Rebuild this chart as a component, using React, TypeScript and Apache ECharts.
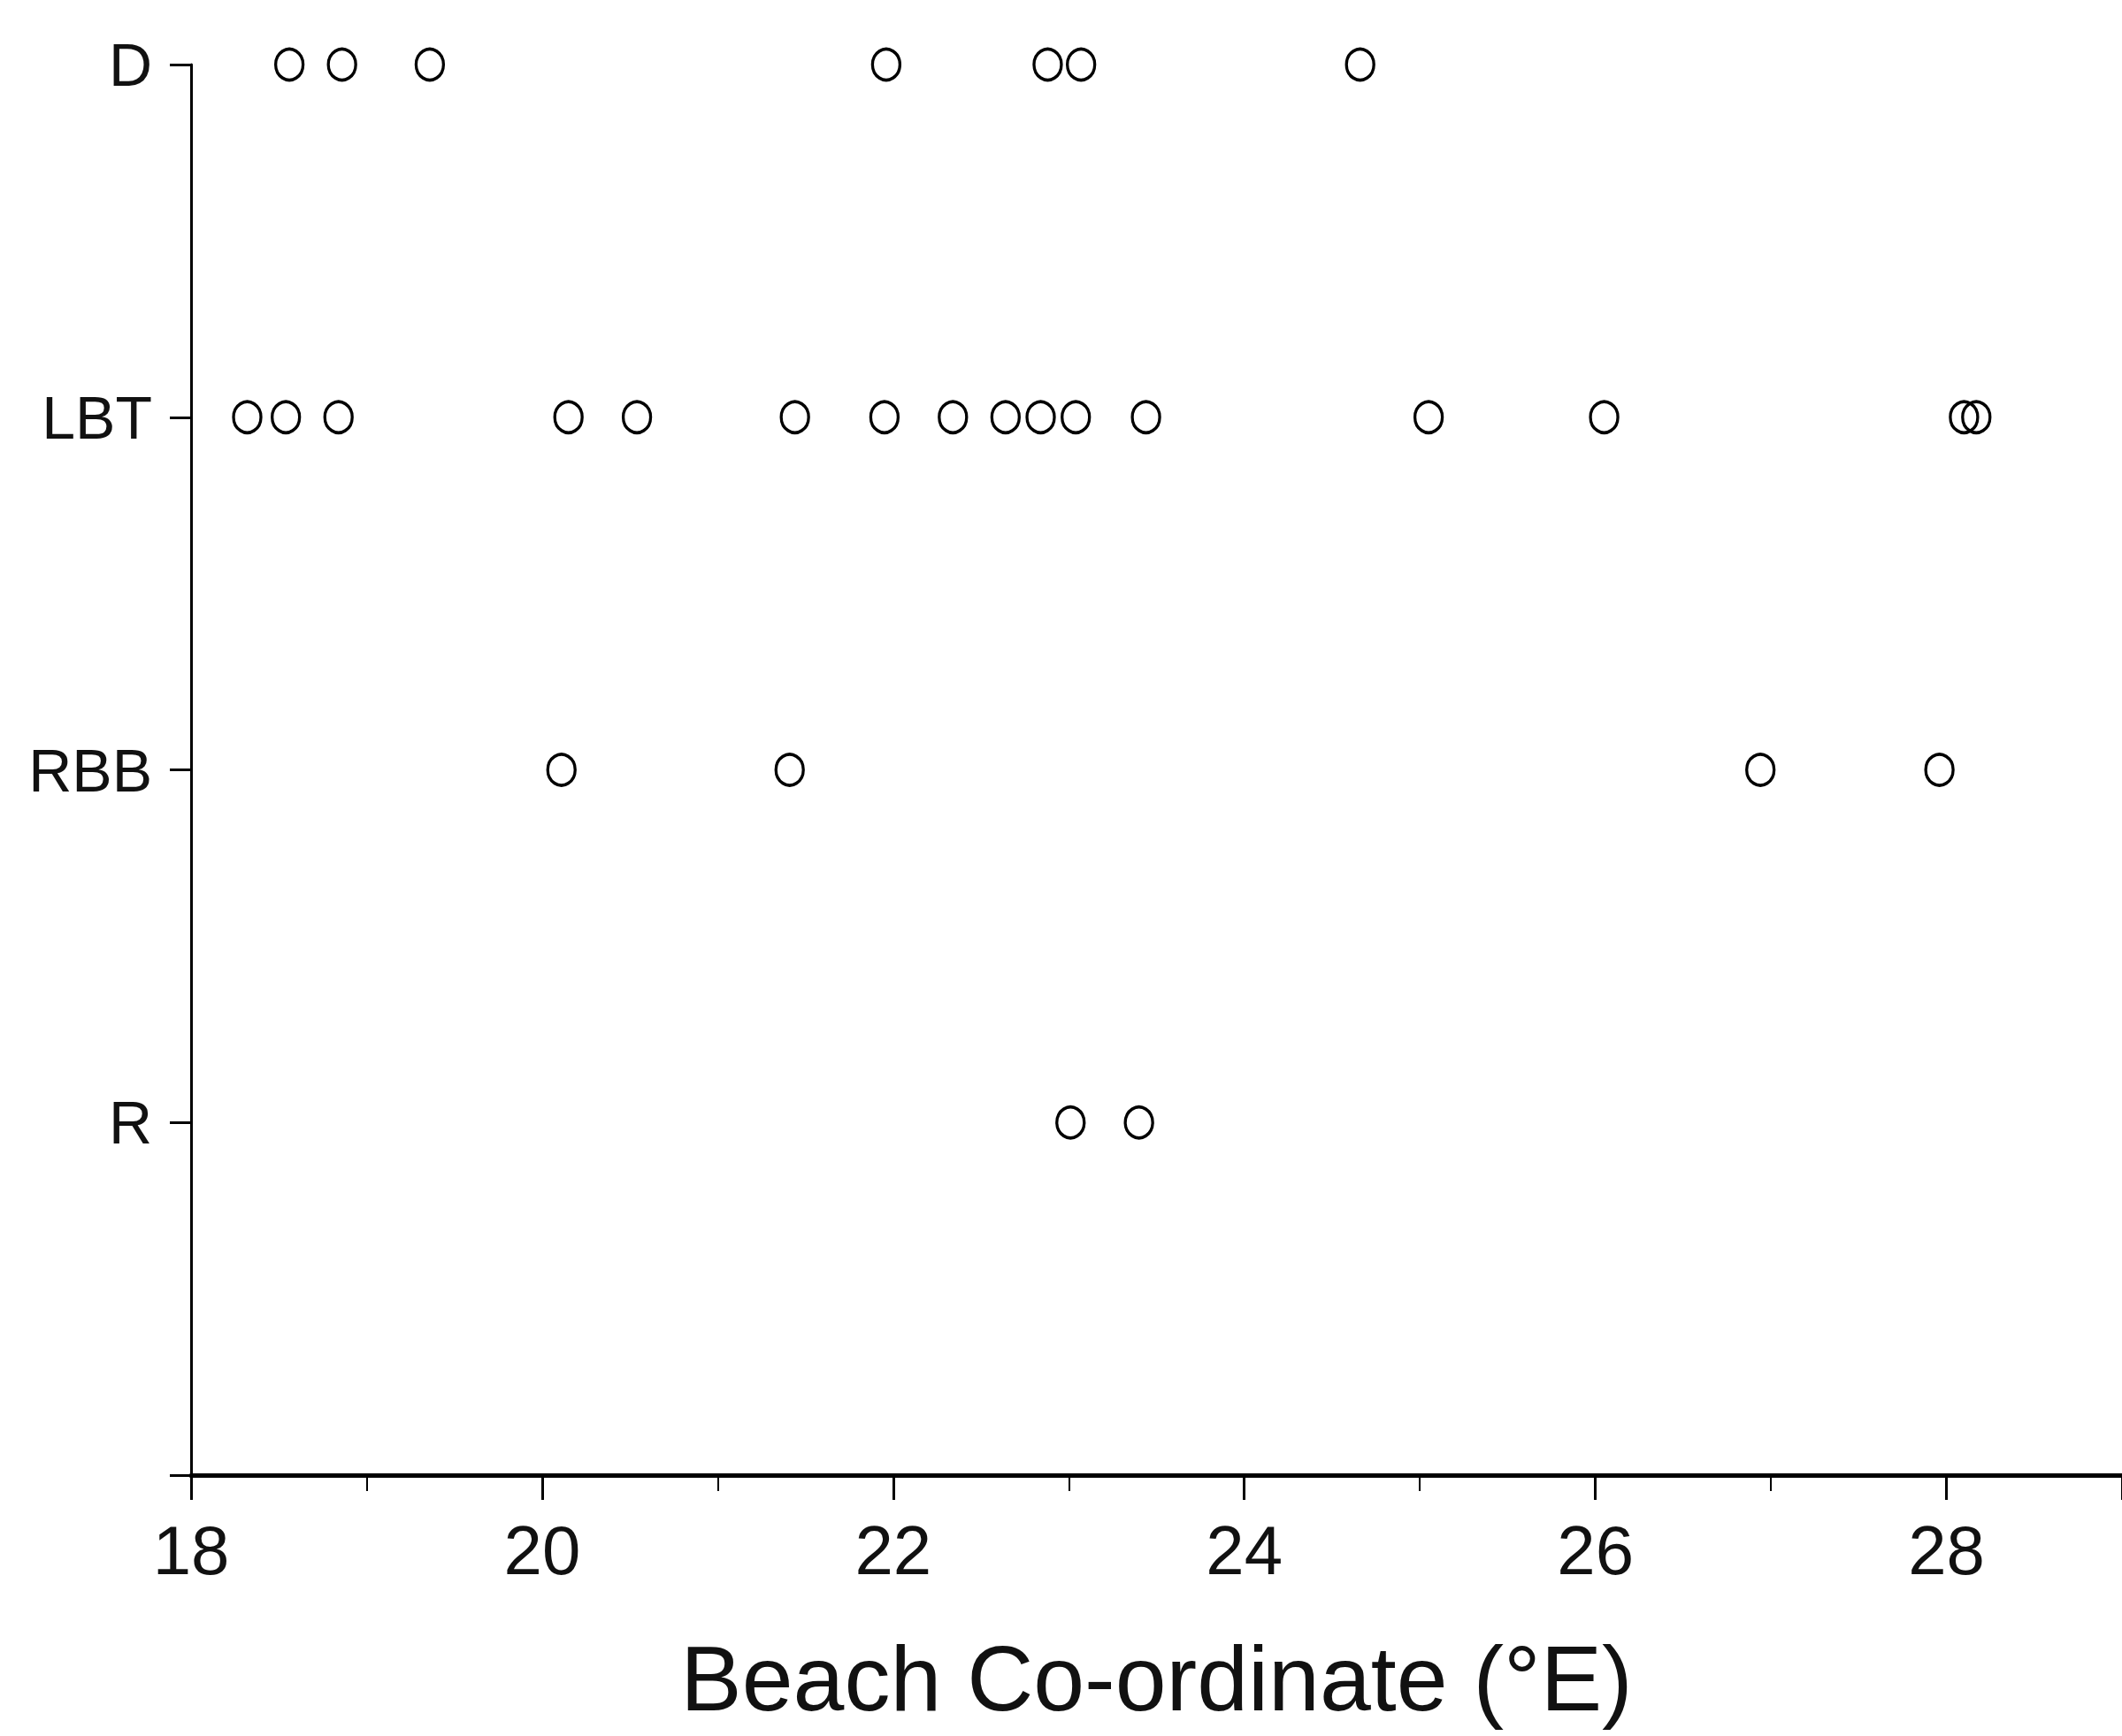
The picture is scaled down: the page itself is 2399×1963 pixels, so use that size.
import React, { useEffect, useRef } from "react";
import * as echarts from "echarts";

const beachTypes = ["", "R", "RBB", "LBT", "D"];
const xTicks = [18, 20, 22, 24, 26, 28];

const dX = [18.56, 18.86, 19.36, 21.96, 22.88, 23.07, 24.66];
const lbtX = [18.32, 18.54, 18.84, 20.15, 20.54, 21.44, 21.95, 22.34, 22.64, 22.84, 23.04, 23.44, 25.05, 26.05, 28.1, 28.17];
const rbbX = [20.11, 21.41, 26.94, 27.96];
const rX = [23.01, 23.4];

const rows: [string, number[]][] = [
  ["D", dX],
  ["LBT", lbtX],
  ["RBB", rbbX],
  ["R", rX],
];

export default function App() {
  const ref = useRef<HTMLDivElement>(null);
  useEffect(() => {
    if (!ref.current) return;
    const chart = echarts.init(ref.current, null, { renderer: "svg" });
    const data: [number, number][] = [];
    rows.forEach(([cat, xs]) => {
      const idx = beachTypes.indexOf(cat);
      xs.forEach((x) => data.push([x, idx]));
    });
    const font = "Liberation Sans";
    chart.setOption({
      animation: false,
      backgroundColor: "#ffffff",
      grid: { left: 216, right: 0, top: 73, bottom: 295, containLabel: false },
      xAxis: {
        type: "value",
        min: xTicks[0],
        max: 29,
        interval: 2,
        name: "Beach Co-ordinate (°E)",
        nameLocation: "middle",
        nameGap: 178,
        nameTextStyle: { fontFamily: font, fontSize: 104, color: "#111" },
        axisLine: { show: true, lineStyle: { color: "#000", width: 5 } },
        axisTick: { show: true, inside: false, length: 28, lineStyle: { color: "#000", width: 3 } },
        minorTick: { show: true, splitNumber: 2, length: 18, lineStyle: { color: "#000", width: 2 } },
        axisLabel: {
          margin: 46,
          fontFamily: font,
          fontSize: 78,
          color: "#111",
          showMaxLabel: false,
          formatter: (v: number) => (xTicks.includes(v) ? String(v) : ""),
        },
        splitLine: { show: false },
      },
      yAxis: {
        type: "category",
        data: beachTypes,
        boundaryGap: false,
        axisLine: { show: true, onZero: false, lineStyle: { color: "#000", width: 3 } },
        axisTick: { show: true, inside: false, length: 24, lineStyle: { color: "#000", width: 3 } },
        axisLabel: { margin: 44, fontFamily: font, fontSize: 68, color: "#111" },
        splitLine: { show: false },
      },
      series: [
        {
          type: "scatter",
          data,
          symbol: "circle",
          symbolSize: [31, 35],
          itemStyle: { color: "rgba(255,255,255,0)", borderColor: "#000", borderWidth: 3.5, opacity: 1 },
        },
      ],
    });
    return () => chart.dispose();
  }, []);
  return (
    <div
      ref={ref}
      style={{ position: "fixed", left: 0, top: 0, width: 2399, height: 1963, background: "#fff" }}
    />
  );
}
